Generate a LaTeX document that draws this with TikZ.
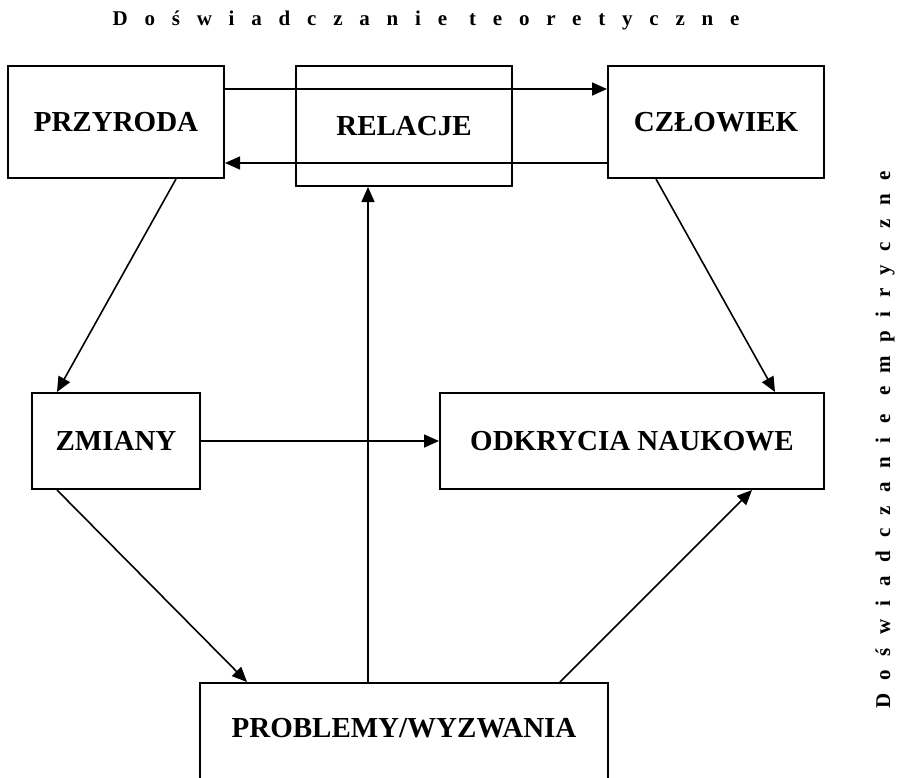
\documentclass[tikz,border=0pt]{standalone}
\usepackage{fontspec}
\setmainfont{Liberation Serif}
\usetikzlibrary{arrows.meta}

\begin{document}
\begin{tikzpicture}[x=0.5pt, y=-0.5pt,
  box/.style={draw, line width=1pt, font=\fontsize{14.5}{17}\selectfont\bfseries},
  arr/.style={line width=0.8pt, -{Triangle[length=7.5pt,width=6.5pt]}},
  spaced/.style={font=\fontsize{10.5}{12}\selectfont\bfseries\addfontfeature{LetterSpace=80}},
  spacedv/.style={font=\fontsize{10.5}{12}\selectfont\bfseries\addfontfeature{LetterSpace=64}}]
\useasboundingbox (0,0) rectangle (898,777);
\clip (0,0) rectangle (898,777);
% boxes
\node[box, minimum width=108pt, minimum height=56pt] (przyroda) at (116,122) {PRZYRODA};
\node[box, minimum width=108pt, minimum height=60pt] (relacje) at (404,126) {RELACJE};
\node[box, minimum width=108pt, minimum height=56pt] (czlowiek) at (716,122) {CZŁOWIEK};
\node[box, minimum width=84pt, minimum height=48pt] (zmiany) at (116,441) {ZMIANY};
\node[box, minimum width=192pt, minimum height=48pt] (odkrycia) at (632,441) {ODKRYCIA NAUKOWE};
\node[box, minimum width=204pt, anchor=north, text height=9.6pt, text depth=40pt, inner ysep=17.7pt] (problemy) at (404,682) {PROBLEMY/WYZWANIA};
% side texts
\node[spaced] (teor) at (426,20) {Doświadczanie teoretyczne};
\node[spacedv, rotate=90] (empir) at (885,440) {Doświadczanie empiryczne};
% arrows
\draw[arr] ([yshift=-12pt]przyroda.north east) -- ([yshift=-12pt]czlowiek.north west);
\draw[arr] ([yshift=8pt]czlowiek.south west) -- ([yshift=8pt]przyroda.south east);
\draw[arr] ([xshift=30pt]przyroda.south) -- ([xshift=-29.5pt]zmiany.north);
\draw[arr] ([xshift=-30pt]czlowiek.south) -- ([xshift=71.5pt]odkrycia.north);
\draw[arr] (zmiany.east) -- (odkrycia.west);
\draw[arr] ([xshift=-29.5pt]zmiany.south) -- ([xshift=-78.5pt]problemy.north);
\draw[arr] ([xshift=-18pt]problemy.north) -- ([xshift=-18pt]relacje.south);
\draw[arr] ([xshift=78pt]problemy.north) -- ([xshift=60pt]odkrycia.south);
\end{tikzpicture}
\end{document}
